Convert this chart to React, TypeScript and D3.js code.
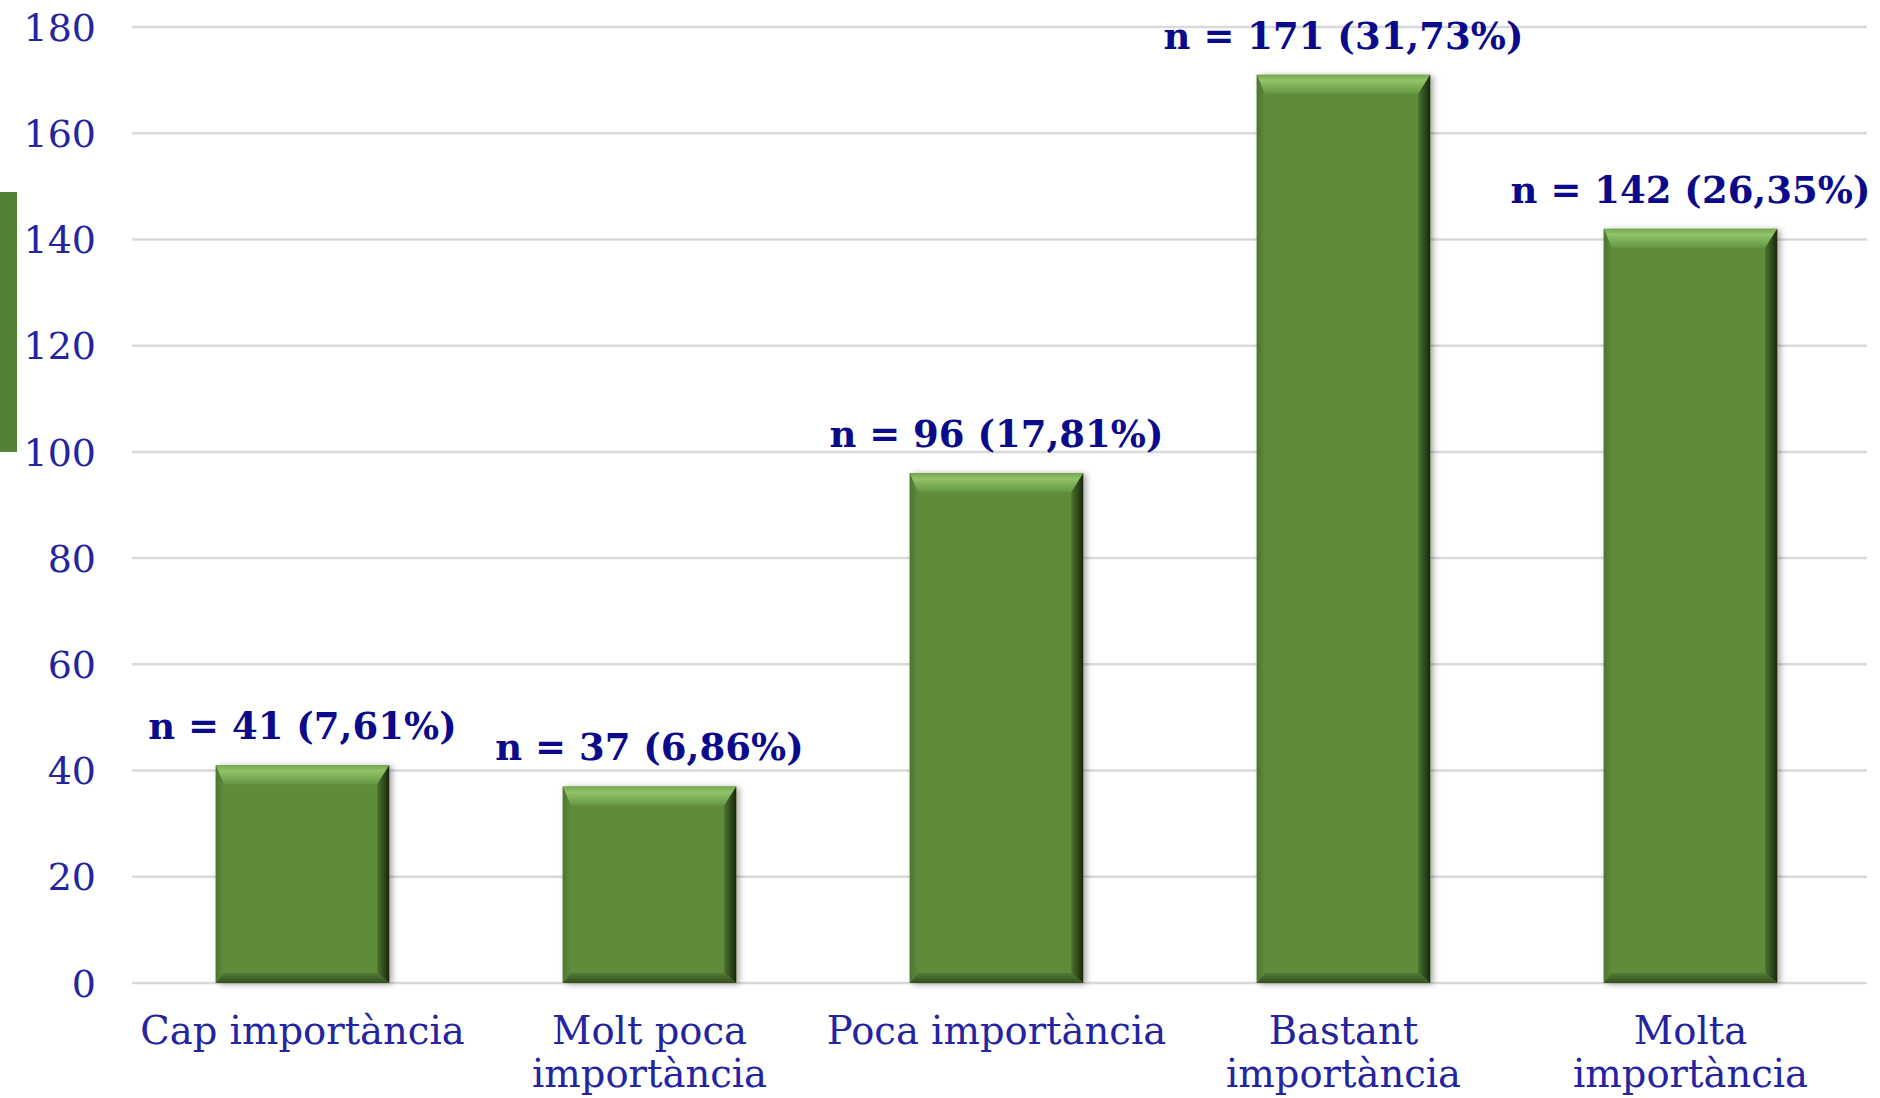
import React from "react";
import * as d3 from "d3";

const categories: string[][] = [
  ["Cap importància"],
  ["Molt poca", "importància"],
  ["Poca importància"],
  ["Bastant", "importància"],
  ["Molta", "importància"],
];
const values: number[] = [41, 37, 96, 171, 142];
const labels: string[] = [
  "n = 41 (7,61%)",
  "n = 37 (6,86%)",
  "n = 96 (17,81%)",
  "n = 171 (31,73%)",
  "n = 142 (26,35%)",
];
const yTicks: number[] = [0, 20, 40, 60, 80, 100, 120, 140, 160, 180];

const W = 1880;
const H = 1098;
const left = 132;
const right = 1867;
const top = 27;
const bottom = 983;

export default function App() {
  const x = d3
    .scaleBand<number>()
    .domain(values.map((_, i) => i))
    .range([left - 3, right - 3])
    .paddingInner(0.5)
    .paddingOuter(0.25);
  const y = d3.scaleLinear().domain([0, 180]).range([bottom, top]);
  const bw = x.bandwidth();
  const bt = 19; // top bevel
  const br = 12; // right bevel
  const bb = 10; // bottom bevel
  const bl = 8; // left bevel

  return (
    <svg
      width={W}
      height={H}
      style={{ position: "absolute", left: 0, top: 0, background: "#fff" }}
    >
      <defs>
        <linearGradient id="gTop" x1="0" y1="0" x2="0" y2="1">
          <stop offset="0" stopColor="#76A850" />
          <stop offset="0.3" stopColor="#90C36A" />
          <stop offset="1" stopColor="#669642" />
        </linearGradient>
        <linearGradient id="gRight" x1="0" y1="0" x2="1" y2="0">
          <stop offset="0" stopColor="#4A7330" />
          <stop offset="0.6" stopColor="#2C4519" />
          <stop offset="1" stopColor="#17260C" />
        </linearGradient>
        <linearGradient id="gBottom" x1="0" y1="0" x2="0" y2="1">
          <stop offset="0" stopColor="#527A34" />
          <stop offset="1" stopColor="#344F1F" />
        </linearGradient>
        <linearGradient id="gLeft" x1="0" y1="0" x2="1" y2="0">
          <stop offset="0" stopColor="#4C7530" />
          <stop offset="1" stopColor="#5E8B3B" />
        </linearGradient>
        <filter id="shadow" x="-20%" y="-10%" width="140%" height="120%">
          <feDropShadow dx="3" dy="1" stdDeviation="3" floodColor="#000" floodOpacity="0.35" />
        </filter>
      </defs>

      <rect x={0} y={192} width={17} height={260} fill="#538135" />

      {yTicks.map((t) => (
        <g key={t}>
          <line x1={left} x2={right} y1={y(t)} y2={y(t)} stroke="#D9D9D9" strokeWidth={2.5} />
          <text
            x={96}
            y={y(t)}
            dy="0.36em"
            textAnchor="end"
            fontFamily="'DejaVu Serif', serif"
            fontSize={38}
            fill="#2424A0"
          >
            {t}
          </text>
        </g>
      ))}

      {values.map((v, i) => {
        const x0 = x(i)!;
        const x1 = x0 + bw;
        const y0 = y(v);
        const y1 = y(0);
        return (
          <g key={i}>
            <rect x={x0} y={y0} width={bw} height={y1 - y0} fill="#5E8B3B" filter="url(#shadow)" />
            <polygon
              points={`${x0},${y0} ${x1},${y0} ${x1 - br},${y0 + bt} ${x0 + bl},${y0 + bt}`}
              fill="url(#gTop)"
            />
            <polygon
              points={`${x1},${y0} ${x1},${y1} ${x1 - br},${y1 - bb} ${x1 - br},${y0 + bt}`}
              fill="url(#gRight)"
            />
            <polygon
              points={`${x0},${y1} ${x1},${y1} ${x1 - br},${y1 - bb} ${x0 + bl},${y1 - bb}`}
              fill="url(#gBottom)"
            />
            <polygon
              points={`${x0},${y0} ${x0 + bl},${y0 + bt} ${x0 + bl},${y1 - bb} ${x0},${y1}`}
              fill="url(#gLeft)"
            />
            <text
              x={x0 + bw / 2}
              y={y0 - 26}
              textAnchor="middle"
              fontFamily="'DejaVu Serif', serif"
              fontWeight="bold"
              fontSize={37}
              fill="#0A0A8A"
            >
              {labels[i]}
            </text>
            {categories[i].map((line, j) => (
              <text
                key={j}
                x={x0 + bw / 2}
                y={1044 + j * 43}
                textAnchor="middle"
                fontFamily="'DejaVu Serif', serif"
                fontSize={38.5}
                fill="#2424A0"
              >
                {line}
              </text>
            ))}
          </g>
        );
      })}
    </svg>
  );
}
